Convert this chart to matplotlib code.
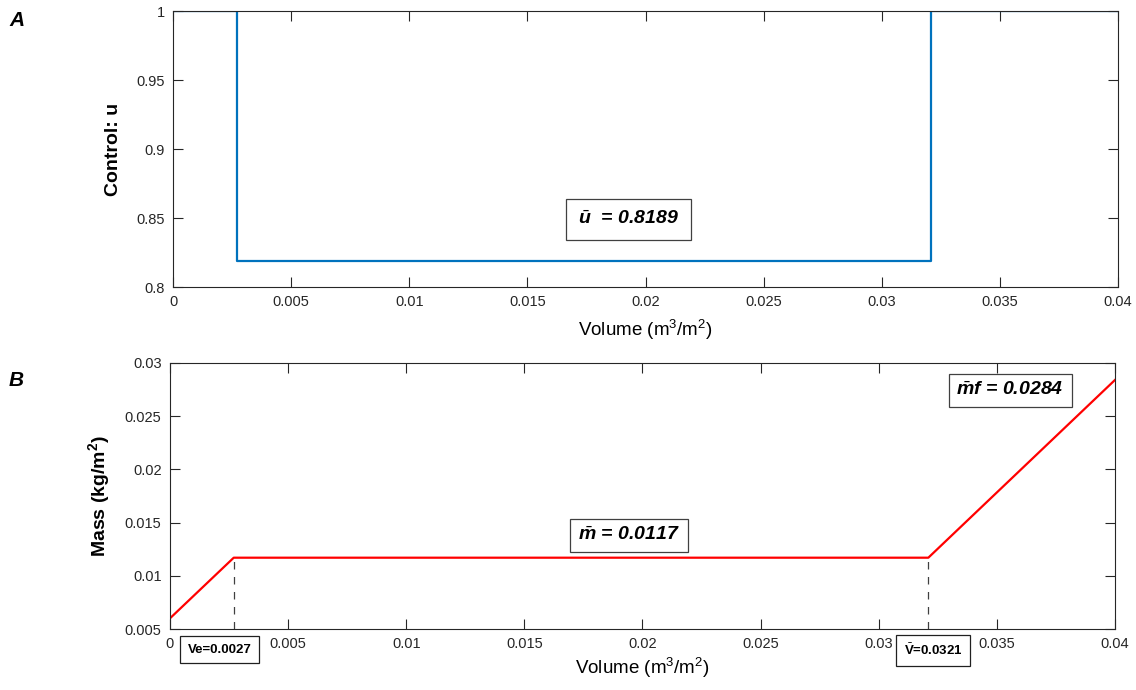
import matplotlib
matplotlib.use("Agg")
import matplotlib.pyplot as plt

plt.rcParams['font.family'] = ['Liberation Sans', 'DejaVu Sans']
plt.rcParams['mathtext.fontset'] = 'custom'
plt.rcParams['mathtext.rm'] = 'Liberation Sans'
plt.rcParams['mathtext.it'] = 'Liberation Sans:italic:bold'
plt.rcParams['mathtext.bf'] = 'Liberation Sans:bold'

# Data
u_x = [0.0, 0.0027, 0.0027, 0.0321, 0.0321, 0.04]
u_y = [1.0, 1.0, 0.8189, 0.8189, 1.0, 1.0]
m_x = [0.0, 0.0027, 0.0321, 0.04]
m_y = [0.0060, 0.0117, 0.0117, 0.0284]
x_ticks = [0, 0.005, 0.01, 0.015, 0.02, 0.025, 0.03, 0.035, 0.04]
x_tick_labels = ['0', '0.005', '0.01', '0.015', '0.02', '0.025', '0.03', '0.035', '0.04']
u_ticks = [0.8, 0.85, 0.9, 0.95, 1.0]
u_tick_labels = ['0.8', '0.85', '0.9', '0.95', '1']
m_ticks = [0.005, 0.01, 0.015, 0.02, 0.025, 0.03]
m_tick_labels = ['0.005', '0.01', '0.015', '0.02', '0.025', '0.03']
Ve = 0.0027
Vbar = 0.0321
m_bar = 0.0117

fig = plt.figure(figsize=(11.36, 6.9), dpi=100)
ax1 = fig.add_axes([0.1523, 0.584, 0.8319, 0.400])
ax2 = fig.add_axes([0.1496, 0.0884, 0.8319, 0.3856])

spine_c = '#262626'
for ax in (ax1, ax2):
    for s in ax.spines.values():
        s.set_color(spine_c)
        s.set_linewidth(0.8)
    ax.tick_params(direction='in', length=7, width=0.8, top=True, right=True,
                   labelsize=10.5, colors=spine_c, pad=6)
    ax.set_xlim(0, 0.04)
    ax.set_xticks(x_ticks)
    ax.set_xticklabels(x_tick_labels)

# Panel A
ax1.plot(u_x, u_y, color='#0072BD', lw=1.6)
ax1.set_ylim(0.8, 1.0)
ax1.set_yticks(u_ticks)
ax1.set_yticklabels(u_tick_labels)
ax1.set_xlabel('Volume (m$^{3}$/m$^{2}$)', fontsize=13.5)
ax1.xaxis.set_label_coords(0.5, -0.112)
ax1.set_ylabel('Control: u', fontsize=14, fontweight='bold')
ax1.yaxis.set_label_coords(-0.054, 0.5)
ax1.text(0.01928, 0.8489, r'$\bar{u}$  = 0.8189', fontsize=14, fontweight='bold', style='italic',
         ha='center', va='center',
         bbox=dict(boxstyle='square,pad=0.6', fc='white', ec='#404040', lw=0.9))

# Panel B
ax2.plot(m_x, m_y, color='#FF0000', lw=1.6)
ax2.plot([Ve, Ve], [0.005, m_bar], ls=(0, (6, 6)), color='#404040', lw=0.9)
ax2.plot([Vbar, Vbar], [0.005, m_bar], ls=(0, (6, 6)), color='#404040', lw=0.9)
ax2.set_ylim(0.005, 0.03)
ax2.set_yticks(m_ticks)
ax2.set_yticklabels(m_tick_labels)
ax2.set_xlabel('Volume (m$^{3}$/m$^{2}$)', fontsize=13.5)
ax2.xaxis.set_label_coords(0.5, -0.10)
ax2.set_ylabel(r'Mass (kg/m$^{\mathbf{2}}$)', fontsize=14, fontweight='bold')
ax2.yaxis.set_label_coords(-0.061, 0.5)
ax2.text(0.01943, 0.01379, r'$\bar{m}$ = 0.0117', fontsize=14, fontweight='bold', style='italic',
         ha='center', va='center',
         bbox=dict(boxstyle='square,pad=0.4', fc='white', ec='#404040', lw=0.9))
ax2.text(0.03556, 0.02741, r'$\bar{m}f$ = 0.0284', fontsize=14, fontweight='bold', style='italic',
         ha='center', va='center',
         bbox=dict(boxstyle='square,pad=0.4', fc='white', ec='#404040', lw=0.9))
ax2.text(0.002095, 0.00307, 'Ve=0.0027', fontsize=9.5, fontweight='bold',
         ha='center', va='center', clip_on=False,
         bbox=dict(boxstyle='square,pad=0.55', fc='white', ec='#202020', lw=0.9))
ax2.text(0.0323, 0.00298, r'$\bar{\mathbf{V}}$=0.0321', fontsize=9.5, fontweight='bold',
         ha='center', va='center', clip_on=False,
         bbox=dict(boxstyle='square,pad=0.55', fc='white', ec='#202020', lw=0.9))

fig.text(0.008, 0.971, 'A', fontsize=15, fontweight='bold', style='italic', va='center')
fig.text(0.008, 0.449, 'B', fontsize=15, fontweight='bold', style='italic', va='center')

fig.savefig('out.png', dpi=100)
